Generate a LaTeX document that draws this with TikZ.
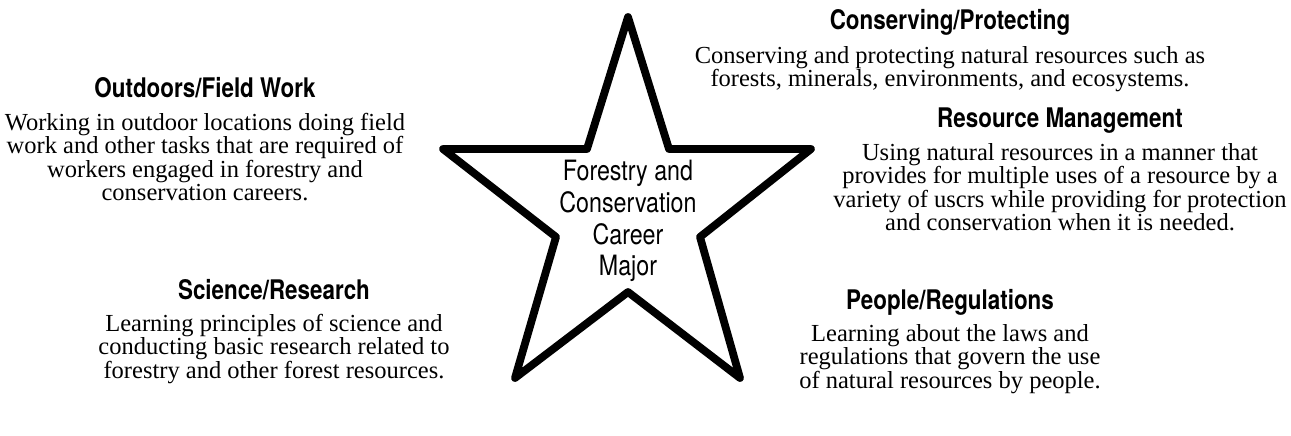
\documentclass[tikz,border=0pt]{standalone}
\usepackage{fontspec}
\setmainfont{Liberation Serif}
\newfontfamily\headfont[FakeStretch=0.83]{TeX Gyre Heros}
\usetikzlibrary{positioning}

\begin{document}
\begin{tikzpicture}[
    x=1pt, y=-1pt,
    head/.style={font=\headfont\bfseries\fontsize{27}{29}\selectfont, inner sep=0pt, anchor=base},
    body/.style={font=\fontsize{24.5}{23.5}\selectfont, align=center, inner sep=0pt},
    starline/.style={draw=black, line width=7.8pt, line join=round},
    core/.style={font=\headfont\fontsize{28}{31.7}\selectfont, align=center, inner sep=0pt},
  ]
  \useasboundingbox (0,0) rectangle (1291,436);

  % star
  \draw[starline] (628,17) -- (669,149) -- (811,149) -- (700,237) -- (740,378)
    -- (628,292) -- (515,378) -- (556,237) -- (443,149) -- (587,149) -- cycle;
  \node[core] (major) at (628,221) {Forestry and\\Conservation\\Career\\Major};

  % outdoors
  \node[head] (outH) at (205,98) {Outdoors/Field Work};
  \node[body, below=15pt of outH.base] (outB) {Working in outdoor locations doing field\\work and other tasks that are required of\\workers engaged in forestry and\\conservation careers.};

  % conserving
  \node[head] (conH) at (950,30) {Conserving/Protecting};
  \node[body, below=16pt of conH.base] (conB) {Conserving and protecting natural resources such as\\forests, minerals, environments, and ecosystems.};

  % resource management
  \node[head] (resH) at (1060,128) {Resource Management};
  \node[body, below=15pt of resH.base] (resB) {Using natural resources in a manner that\\provides for multiple uses of a resource by a\\variety of uscrs while providing for protection\\and conservation when it is needed.};

  % science
  \node[head] (sciH) at (274,299) {Science/Research};
  \node[body, below=15pt of sciH.base] (sciB) {Learning principles of science and\\conducting basic research related to\\forestry and other forest resources.};

  % people
  \node[head] (peoH) at (950,309) {People/Regulations};
  \node[body, below=15pt of peoH.base] (peoB) {Learning about the laws and\\regulations that govern the use\\of natural resources by people.};
\end{tikzpicture}
\end{document}
